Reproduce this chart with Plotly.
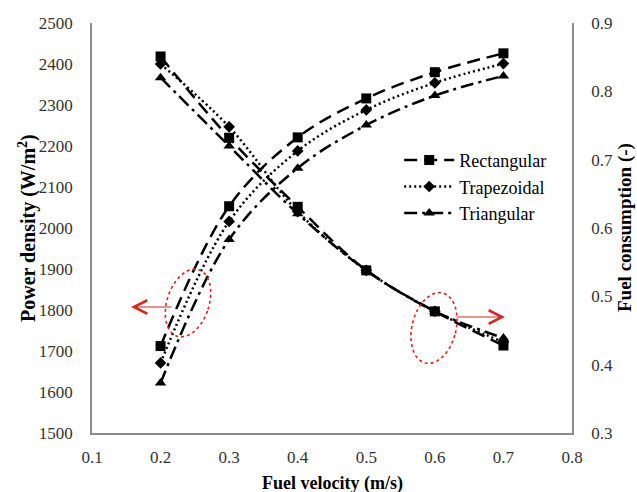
import numpy as np
import plotly.graph_objects as go

# ---- data ----
velocity = [0.2, 0.3, 0.4, 0.5, 0.6, 0.7]
series_names = ["Rectangular", "Trapezoidal", "Triangular"]
power_rect = [1712, 2053, 2221, 2316, 2380, 2426]
power_trap = [1671, 2016, 2188, 2288, 2354, 2401]
power_tri = [1622, 1972, 2146, 2251, 2323, 2371]
fuel_rect = [0.851, 0.732, 0.631, 0.538, 0.478, 0.428]
fuel_trap = [0.840, 0.748, 0.624, 0.538, 0.478, 0.433]
fuel_tri = [0.820, 0.720, 0.621, 0.538, 0.478, 0.439]
x_ticks = [0.1, 0.2, 0.3, 0.4, 0.5, 0.6, 0.7, 0.8]

power = [power_rect, power_trap, power_tri]
fuel = [fuel_rect, fuel_trap, fuel_tri]
dashes = ["13px,7px", "2px,3px", "13px,5px,3px,5px"]
symbols = ["square", "diamond", "triangle-up"]
msizes = [10, 9, 10]

SERIF = "Liberation Serif, Times New Roman, serif"

fig = go.Figure()
for i, name in enumerate(series_names):
    fig.add_trace(go.Scatter(
        x=velocity, y=power[i], name=name, mode="lines+markers",
        line=dict(color="black", width=2.5, dash=dashes[i], shape="spline"),
        marker=dict(symbol=symbols[i], size=msizes[i], color="black"),
        legendgroup=name, showlegend=True))
for i, name in enumerate(series_names):
    fig.add_trace(go.Scatter(
        x=velocity, y=fuel[i], name=name, mode="lines+markers", yaxis="y2",
        line=dict(color="black", width=2.5, dash=dashes[i], shape="spline"),
        marker=dict(symbol=symbols[i], size=msizes[i], color="black"),
        legendgroup=name, showlegend=False))

# ---- geometry helpers for decorations ----
L, R, T, B = 92, 65, 23, 59
W, H = 637, 492
pw, ph = W - L - R, H - T - B


def to_paper(px, py):
    return (px - L) / pw, 1 - (py - T) / ph


def ellipse_path(cx, cy, a, b, ang_deg):
    t = np.linspace(0, 2 * np.pi, 73)
    ang = np.deg2rad(ang_deg)
    ex = b * np.cos(t)
    ey = a * np.sin(t)
    px = cx + ex * np.cos(ang) + ey * np.sin(ang)
    py = cy - (-ex * np.sin(ang) + ey * np.cos(ang))
    pts = [to_paper(u, v) for u, v in zip(px, py)]
    return "M" + " L".join(f"{u:.4f},{v:.4f}" for u, v in pts) + " Z"


for (cx, cy, a, b, ang) in [(188, 303, 35, 21, 18), (434, 328, 36, 22, 14)]:
    fig.add_shape(type="path", xref="paper", yref="paper",
                  path=ellipse_path(cx, cy, a, b, ang),
                  line=dict(color="#e0201c", width=1.6, dash="dot"))

# arrows (head pixel position, tail offset)
for (hx, hy, ax) in [(131, 307, 42), (505, 317, -50)]:
    xp, yp = to_paper(hx, hy)
    fig.add_annotation(x=xp, y=yp, xref="paper", yref="paper", text="",
                       showarrow=True, ax=ax, ay=0, arrowhead=5,
                       arrowsize=2.2, arrowwidth=1.2, arrowcolor="#d42a24")

# axis titles
fig.add_annotation(x=0, y=0.5, xref="paper", yref="paper", xshift=-65,
                   xanchor="center", yanchor="middle",
                   text="<b>Power density (W/m<sup>2</sup>)</b>", textangle=-90,
                   showarrow=False, font=dict(family=SERIF, size=20, color="black"))
fig.add_annotation(x=1, y=0.5, xref="paper", yref="paper", xshift=53,
                   xanchor="center", yanchor="middle",
                   text="<b>Fuel consumption (-)</b>", textangle=-90,
                   showarrow=False, font=dict(family=SERIF, size=19, color="black"))
fig.add_annotation(x=0.5, y=0, xref="paper", yref="paper", yshift=-50,
                   xanchor="center", yanchor="middle",
                   text="<b>Fuel velocity (m/s)</b>",
                   showarrow=False, font=dict(family=SERIF, size=18, color="black"))

axis_common = dict(showline=True, linecolor="#8c8c8c", linewidth=1.5,
                   showgrid=False, zeroline=False, ticks="",
                   tickfont=dict(family=SERIF, size=17, color="#333333"))

fig.update_layout(
    width=W, height=H, autosize=False,
    margin=dict(l=L, r=R, t=T, b=B, pad=0),
    paper_bgcolor="white", plot_bgcolor="white",
    xaxis=dict(range=[0.1, 0.8], tickvals=x_ticks, tickformat=".1f",
               ticklabelstandoff=8, **axis_common),
    yaxis=dict(range=[1500, 2500], dtick=100, ticklabelstandoff=14,
               **axis_common),
    yaxis2=dict(range=[0.3, 0.9], dtick=0.1, tickformat=".1f",
                overlaying="y", side="right", ticklabelstandoff=14,
                **axis_common),
    legend=dict(x=0.64, y=0.71, xanchor="left", yanchor="top",
                bgcolor="rgba(0,0,0,0)", itemwidth=50, tracegroupgap=0,
                font=dict(family=SERIF, size=18, color="black")),
    showlegend=True,
)

fig.write_html("out.html", config={"displayModeBar": False},
               post_script="document.body.style.margin='0';document.body.style.overflow='hidden';")
